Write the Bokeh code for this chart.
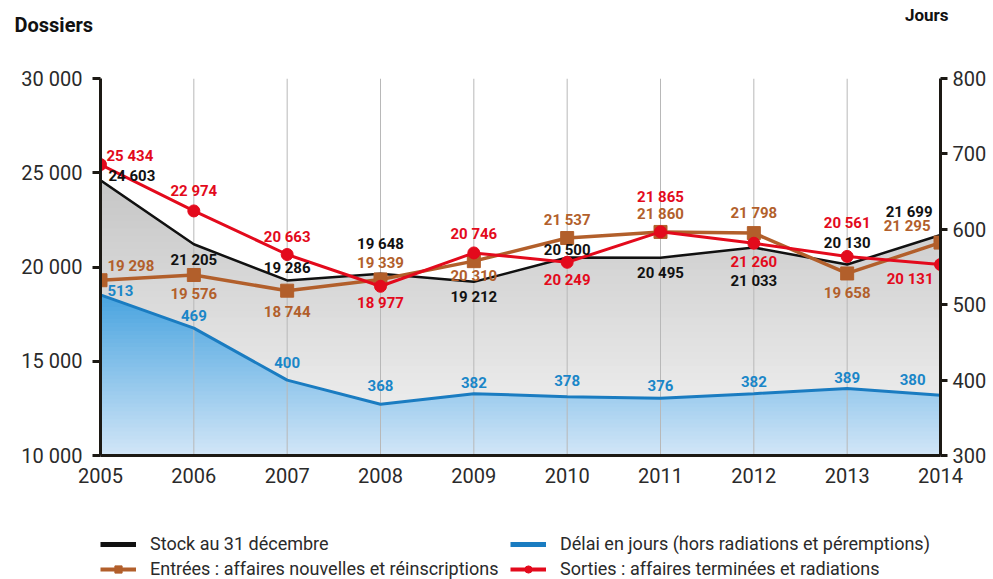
import numpy as np
from bokeh.plotting import figure
from bokeh.layouts import column
from bokeh.models import (ColumnDataSource, Range1d, LinearAxis, FixedTicker,
                          Legend, LegendItem, Title)
from bokeh.core.properties import value
from bokeh.embed import file_html
from bokeh.resources import INLINE

# ---------------- data ----------------
years = [2005, 2006, 2007, 2008, 2009, 2010, 2011, 2012, 2013, 2014]
stock = [24603, 21205, 19286, 19648, 19212, 20500, 20495, 21033, 20130, 21699]
entrees = [19298, 19576, 18744, 19339, 20310, 21537, 21860, 21798, 19658, 21295]
sorties = [25434, 22974, 20663, 18977, 20746, 20249, 21865, 21260, 20561, 20131]
delai = [513, 469, 400, 368, 382, 378, 376, 382, 389, 380]

left_ticks = [10000, 15000, 20000, 25000, 30000]
left_tick_labels = ["10 000", "15 000", "20 000", "25 000", "30 000"]
right_ticks = [300, 400, 500, 600, 700, 800]
year_labels = ["2005", "2006", "2007", "2008", "2009", "2010", "2011", "2012", "2013", "2014"]

# label placement (screen px offsets; positive = downward)
stock_dx = [8, 0, 0, 0, 0, 0, 0, 0, 0, -8]
stock_dy = [-4, 16, -12, -30, 15, -8, 15, 33, -22, -23]
entrees_dx = [7, 0, 0, 0, 0, 0, 0, 0, 0, -10]
entrees_dy = [-14, 19, 21, -16, 15, -18, -18, -20, 20, -17]
sorties_dx = [6, 0, 0, 0, 0, 0, 0, 0, 0, -7]
sorties_dy = [-9, -20, -18, 17, -19, 18, -35, 19, -33, 14]
delai_dx = [7, 0, 0, 0, 0, 0, 0, 0, 0, -15]
delai_dy = [-4, -13, -18, -19, -11, -16, -13, -12, -11, -16]
aligns = ["left"] + ["center"] * 8 + ["right"]

YMIN, YMAX = 10000, 30000
RMIN, RMAX = 300, 800

BLACK = "#111111"
BROWN = "#b25f2b"
RED = "#e30a1c"
BLUE = "#1a7cc1"
BLUE_TXT = "#1a86c8"
GRID = "#b8b8b8"
TICK_FONT = "Roboto"
LBL_FONT = "Roboto"


def fmt(v):
    return f"{v:,}".replace(",", " ")


def capped(xs, ys, cap):
    xs = np.asarray(xs, float)
    ys = np.asarray(ys, float)
    px = []
    for i in range(len(xs) - 1):
        px.append(xs[i])
        y0, y1 = ys[i], ys[i + 1]
        if (y0 - cap) * (y1 - cap) < 0:
            px.append(xs[i] + (cap - y0) / (y1 - y0) * (xs[i + 1] - xs[i]))
    px.append(xs[-1])
    px = np.array(px)
    py = np.minimum(np.interp(px, xs, ys), cap)
    return px, py


def mix(c0, c1, t):
    return "#%02x%02x%02x" % tuple(int(round(a + (b - a) * t)) for a, b in zip(c0, c1))


p = figure(frame_width=840, frame_height=377,
           min_border_left=100, min_border_right=53, min_border_top=78, min_border_bottom=66,
           x_range=Range1d(2005, 2014), y_range=Range1d(YMIN, YMAX),
           output_backend="svg", toolbar_location=None, tools="")
p.extra_y_ranges = {"right": Range1d(RMIN, RMAX)}
p.outline_line_color = None
p.xgrid.visible = False
p.ygrid.visible = False

# ---------- gradient fills ----------
N = 40
g_bot, g_top = (244, 244, 244), (198, 198, 198)
smax = max(stock)
for k in range(N, 0, -1):
    cap = YMIN + (smax - YMIN) * k / N
    px, py = capped(years, stock, cap)
    p.varea(x=px, y1=YMIN, y2=py, fill_color=mix(g_bot, g_top, (k - 0.5) / N))

b_bot, b_top = (210, 230, 247), (72, 163, 223)
dmax = max(delai)
for k in range(N, 0, -1):
    cap = RMIN + (dmax - RMIN) * k / N
    px, py = capped(years, delai, cap)
    p.varea(x=px, y1=RMIN, y2=py, fill_color=mix(b_bot, b_top, (k - 0.5) / N),
            y_range_name="right")

p.segment(x0=years[1:-1], y0=YMIN, x1=years[1:-1], y1=YMAX, line_color=GRID, line_width=1)

# ---------- lines ----------
p.line(years, stock, line_color=BLACK, line_width=2.5)
p.line(years, delai, line_color=BLUE, line_width=3, y_range_name="right")
p.line(years, entrees, line_color=BROWN, line_width=3.5)
p.scatter(years, entrees, marker="square", size=13, fill_color=BROWN, line_color=BROWN)
p.line(years, sorties, line_color=RED, line_width=3)
p.scatter(years, sorties, marker="circle", size=12, fill_color=RED, line_color=RED)


def add_labels(vals, dx, dy, color, rng=None):
    src = ColumnDataSource(dict(x=years, y=vals, t=[fmt(v) for v in vals],
                                dx=dx, dy=dy, al=aligns))
    kw = {}
    if rng:
        kw["y_range_name"] = rng
    p.text(x="x", y="y", text="t", x_offset="dx", y_offset="dy", text_align="al",
           text_baseline="middle", text_font=value(LBL_FONT), text_font_style="bold",
           text_font_size="15px", text_color=color, source=src, **kw)


add_labels(stock, stock_dx, stock_dy, BLACK)
add_labels(entrees, entrees_dx, entrees_dy, BROWN)
add_labels(sorties, sorties_dx, sorties_dy, RED)
add_labels(delai, delai_dx, delai_dy, BLUE_TXT, "right")


# ---------- axes ----------
def style_axis(ax):
    ax.axis_line_width = 3
    ax.axis_line_color = "#1c1914"
    ax.major_tick_line_width = 3
    ax.major_tick_line_color = "#1c1914"
    ax.minor_tick_line_color = None
    ax.major_tick_in = 0
    ax.major_tick_out = 8
    ax.major_label_text_font = TICK_FONT
    ax.major_label_text_font_size = "20px"
    ax.major_label_text_color = "#2a2a2a"


ya = p.yaxis[0]
style_axis(ya)
ya.ticker = FixedTicker(ticks=left_ticks)
ya.major_label_overrides = {t: l for t, l in zip(left_ticks, left_tick_labels)}
ya.major_label_standoff = 10

ra = LinearAxis(y_range_name="right", ticker=FixedTicker(ticks=right_ticks))
style_axis(ra)
ra.major_tick_out = 7
ra.major_label_standoff = 5
p.add_layout(ra, "right")

xa = p.xaxis[0]
style_axis(xa)
xa.ticker = FixedTicker(ticks=years)
xa.major_label_overrides = {y: l for y, l in zip(years, year_labels)}
xa.major_tick_out = 0
xa.major_label_standoff = 12

# ---------- axis titles (stacked outward from the frame) ----------
p.add_layout(Title(text=" ", standoff=28, text_font_size="20px"), "above")
p.add_layout(Title(text="Dossiers", align="left", offset=-86, standoff=-20,
                   text_font=LBL_FONT, text_font_style="bold", text_font_size="20px",
                   text_color="#111111"), "above")
p.add_layout(Title(text="Jours", align="right", offset=-8, standoff=-9,
                   text_font=LBL_FONT, text_font_style="bold", text_font_size="17px",
                   text_color="#111111"), "above")

# ---------- legend strip ----------
leg = figure(width=993, height=58, x_range=Range1d(0, 1), y_range=Range1d(0, 1),
             min_border_left=100, min_border_right=53, min_border_top=0, min_border_bottom=0,
             x_axis_location=None, y_axis_location=None,
             output_backend="svg", toolbar_location=None, tools="")
leg.outline_line_color = None
leg.xgrid.visible = False
leg.ygrid.visible = False
# swatch renderers (their data lies outside this strip's ranges, so only the legend shows them)
s_stock = leg.line(years, stock, line_color=BLACK, line_width=5)
s_delai = leg.line(years, delai, line_color=BLUE, line_width=5)
s_ent = leg.line(years, entrees, line_color=BROWN, line_width=4)
s_ent_m = leg.scatter(years, entrees, marker="square", size=13, fill_color=BROWN, line_color=BROWN)
s_sor = leg.line(years, sorties, line_color=RED, line_width=4)
s_sor_m = leg.scatter(years, sorties, marker="circle", size=13, fill_color=RED, line_color=RED)


def make_legend(items, x):
    lg = Legend(items=items, location=(x, 0), orientation="vertical",
                glyph_width=36, glyph_height=18, label_height=18, spacing=4,
                label_standoff=14, padding=0, margin=0,
                label_text_font=TICK_FONT, label_text_font_size="18px",
                label_text_color="#2a2a2a",
                border_line_alpha=0, background_fill_alpha=0)
    leg.add_layout(lg, "center")


make_legend([LegendItem(label="Stock au 31 décembre", renderers=[s_stock]),
             LegendItem(label="Entrées : affaires nouvelles et réinscriptions",
                        renderers=[s_ent, s_ent_m])], 0)
make_legend([LegendItem(label="Délai en jours (hors radiations et péremptions)",
                        renderers=[s_delai]),
             LegendItem(label="Sorties : affaires terminées et radiations",
                        renderers=[s_sor, s_sor_m])], 410)

layout = column(p, leg, spacing=0)
open("out.html", "w").write(file_html(layout, INLINE))
